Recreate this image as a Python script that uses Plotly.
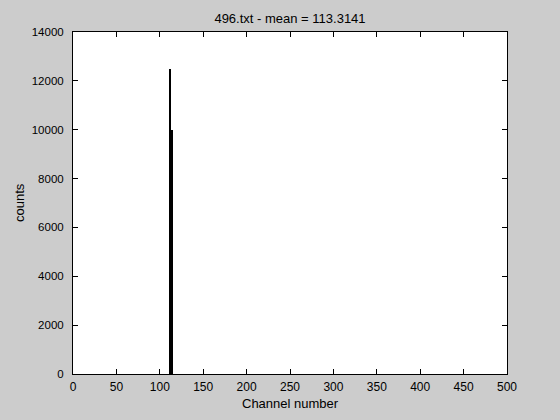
import plotly.graph_objects as go

channels = [112, 113, 114]
counts = [12480, 9990, 9990]
x_ticks = [0, 50, 100, 150, 200, 250, 300, 350, 400, 450, 500]
y_ticks = [0, 2000, 4000, 6000, 8000, 10000, 12000, 14000]
y_tick_labels = [str(v) for v in y_ticks]
x_tick_labels = [str(v) for v in x_ticks]
title_text = "496.txt - mean = 113.3141"
x_label = "Channel number"
y_label = "counts"

FONT = "Liberation Sans, Arial, sans-serif"
L, R, T, B = 73, 507, 32, 374
W, H = 560, 420

fig = go.Figure()
fig.add_trace(go.Bar(x=channels, y=counts, width=1.0,
                     marker=dict(color="black", line=dict(width=0))))

fig.update_layout(
    width=W, height=H,
    margin=dict(l=L, r=W - R, t=T, b=H - B, autoexpand=False),
    paper_bgcolor="#cccccc", plot_bgcolor="white",
    font=dict(family=FONT, size=11, color="black"),
    showlegend=False, bargap=0,
    title=dict(text=title_text, x=(L + R) / 2 / W, xanchor="center",
               y=1 - 18 / H, yanchor="middle", yref="container",
               font=dict(size=13, family=FONT, color="black")),
    annotations=[
        dict(text=x_label, xref="paper", yref="paper", x=0.5,
             y=-(403 - B) / (B - T), xanchor="center", yanchor="middle",
             showarrow=False, font=dict(size=13, family=FONT, color="black")),
        dict(text=y_label, xref="paper", yref="paper", x=-(L - 19) / (R - L),
             y=0.5, xanchor="center", yanchor="middle", textangle=-90,
             showarrow=False, font=dict(size=13, family=FONT, color="black")),
    ],
)
fig.update_xaxes(range=[0, 500], tickvals=x_ticks, ticktext=x_tick_labels,
                 ticks="inside", ticklen=5, tickcolor="black",
                 showline=True, linecolor="black", linewidth=1,
                 mirror="ticks", showgrid=False, zeroline=False,
                 automargin=False, ticklabelstandoff=2,
                 tickfont=dict(size=12))
fig.update_yaxes(range=[0, 14000], tickvals=y_ticks, ticktext=y_tick_labels,
                 ticks="inside", ticklen=5, tickcolor="black",
                 showline=True, linecolor="black", linewidth=1,
                 mirror="ticks", showgrid=False, zeroline=False,
                 automargin=False, ticklabelstandoff=6,
                 tickfont=dict(size=11.5))

fig.write_html("out.html",
               config={"displayModeBar": False},
               post_script="document.body.style.margin='0';"
                           "document.body.style.background='#cccccc';")
